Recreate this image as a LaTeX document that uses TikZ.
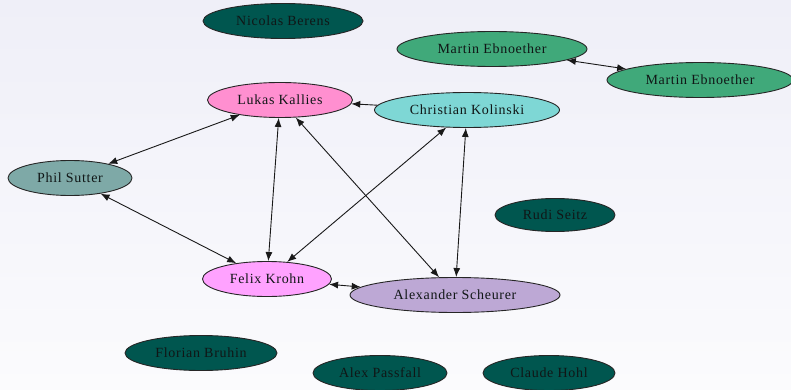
\documentclass[tikz,border=0pt]{standalone}
\usepackage{fontspec}
\setmainfont[LetterSpace=5]{Liberation Serif}
\usetikzlibrary{shapes.geometric,arrows.meta}
\definecolor{darkteal}{HTML}{00564F}
\definecolor{mgreen}{HTML}{40A97A}
\definecolor{lpink}{HTML}{FF8FD0}
\definecolor{cturq}{HTML}{7ED7D5}
\definecolor{pgray}{HTML}{7EA9A7}
\definecolor{fpink}{HTML}{FFA2FF}
\definecolor{alav}{HTML}{BDA8D5}
\definecolor{txt}{HTML}{101616}
\definecolor{bgtop}{HTML}{EFEFF8}
\definecolor{bgbot}{HTML}{FBFBFD}
\tikzset{
  person/.style={ellipse, draw=black!85, line width=0.9pt, inner sep=0pt,
    minimum height=35pt, text=txt, font=\fontsize{14}{16}\selectfont},
  link/.style={line width=0.9pt, draw=black!90, {Latex[length=9pt,width=7pt]}-{Latex[length=9pt,width=7pt]}},
  onelink/.style={line width=0.9pt, draw=black!90, -{Latex[length=9pt,width=7pt]}}
}
\begin{document}
\begin{tikzpicture}[x=1pt,y=-1pt]
\useasboundingbox (0,0) rectangle (791,390);
\shade[top color=bgtop, bottom color=bgbot] (0,0) rectangle (791,390);
\clip (0,0) rectangle (791,390);
\node[person, fill=darkteal, minimum width=160pt] (nb) at (283,21) {Nicolas Berens};
\node[person, fill=mgreen, minimum width=190pt] (me1) at (492,49) {Martin Ebnoether};
\node[person, fill=mgreen, minimum width=186pt] (me2) at (700,80) {Martin Ebnoether};
\node[person, fill=lpink, minimum width=145pt] (lk) at (280,100) {Lukas Kallies};
\node[person, fill=cturq, minimum width=185pt] (ck) at (467,110) {Christian Kolinski};
\node[person, fill=pgray, minimum width=124pt] (ps) at (70,178) {Phil Sutter};
\node[person, fill=darkteal, minimum width=120pt, minimum height=33pt] (rs) at (555,215) {Rudi Seitz};
\node[person, fill=fpink, minimum width=129pt] (fk) at (267,279) {Felix Krohn};
\node[person, fill=alav, minimum width=210pt] (as) at (455,295) {Alexander Scheurer};
\node[person, fill=darkteal, minimum width=152pt] (fb) at (201,353) {Florian Bruhin};
\node[person, fill=darkteal, minimum width=134pt] (ap) at (380,373) {Alex Passfall};
\node[person, fill=darkteal, minimum width=132pt] (chh) at (549,373) {Claude Hohl};
\draw[link] (me1) -- (me2);
\draw[onelink] (ck) -- (lk);
\draw[link] (lk) -- (ps);
\draw[link] (lk) -- (fk);
\draw[link] (lk) -- (as);
\draw[link] (ck) -- (fk);
\draw[link] (ck) -- (as);
\draw[link] (ps) -- (fk);
\draw[link] (fk) -- (as);
\end{tikzpicture}
\end{document}
